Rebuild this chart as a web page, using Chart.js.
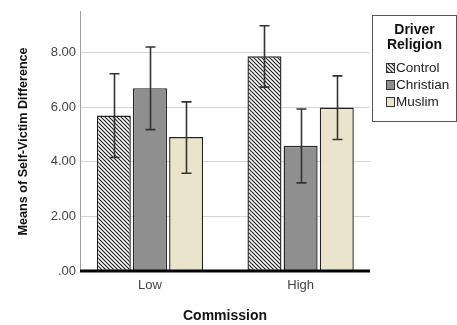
<!DOCTYPE html>
<html>
<head>
<meta charset="utf-8">
<script src="https://cdn.jsdelivr.net/npm/chart.js@4/dist/chart.umd.min.js"></script>
<style>
html,body{margin:0;padding:0;background:#fff;}
#wrap{width:457px;height:325px;position:relative;}
</style>
</head>
<body>
<div id="wrap"><canvas id="c" width="457" height="325"></canvas></div>
<script>
// ---- data ----
const categories = ["Low", "High"];
const seriesNames = ["Control", "Christian", "Muslim"];
const controlMeans   = [5.70, 7.87];
const christianMeans = [6.70, 4.59];
const muslimMeans    = [4.91, 5.99];
const controlLow   = [4.16, 6.74];
const controlHigh  = [7.23, 8.99];
const christianLow  = [5.18, 3.23];
const christianHigh = [8.21, 5.94];
const muslimLow  = [3.58, 4.82];
const muslimHigh = [6.20, 7.15];
const yTicks = [0, 2, 4, 6, 8];
const legendTitle = ["Driver", "Religion"];
const xTitle = "Commission";
const yTitle = "Means of Self-Victim Difference";

// ---- hatch pattern ----
function makeHatch() {
  const p = document.createElement('canvas');
  p.width = 4; p.height = 4;
  const g = p.getContext('2d');
  g.fillStyle = '#ffffff';
  g.fillRect(0, 0, 4, 4);
  g.strokeStyle = '#222222';
  g.lineWidth = 1.2;
  for (const k of [-4, 0, 4]) {
    g.beginPath();
    g.moveTo(k - 1, -1);
    g.lineTo(k + 5, 5);
    g.stroke();
  }
  return document.getElementById('c').getContext('2d').createPattern(p, 'repeat');
}
const hatch = makeHatch();
const fills = [hatch, '#8f8f8f', '#ebe4cd'];

const means = [controlMeans, christianMeans, muslimMeans];
const lows = [controlLow, christianLow, muslimLow];
const highs = [controlHigh, christianHigh, muslimHigh];

const datasets = seriesNames.map((name, s) => ({
  label: name,
  data: means[s].map((v, i) => ({ x: i, y: v })),
  errLow: lows[s],
  errHigh: highs[s],
  backgroundColor: fills[s],
  borderColor: '#222222',
  borderWidth: 1.4,
  categoryPercentage: 0.72,
  barPercentage: 0.94
}));

const errorBars = {
  id: 'errorBars',
  afterDatasetsDraw(chart) {
    const ctx = chart.ctx;
    const ys = chart.scales.y;
    ctx.save();
    ctx.strokeStyle = '#333333';
    ctx.lineWidth = 1.6;
    chart.data.datasets.forEach((ds, di) => {
      const meta = chart.getDatasetMeta(di);
      meta.data.forEach((bar, i) => {
        const x = Math.round(bar.x) + 0.5;
        const y1 = ys.getPixelForValue(ds.errLow[i]);
        const y2 = ys.getPixelForValue(ds.errHigh[i]);
        ctx.beginPath();
        ctx.moveTo(x, y1); ctx.lineTo(x, y2);
        ctx.moveTo(x - 5, y1); ctx.lineTo(x + 5, y1);
        ctx.moveTo(x - 5, y2); ctx.lineTo(x + 5, y2);
        ctx.stroke();
      });
    });
    ctx.restore();
  }
};

const baseline = {
  id: 'baseline',
  afterDatasetsDraw(chart) {
    const ctx = chart.ctx;
    const a = chart.chartArea;
    const y0 = chart.scales.y.getPixelForValue(0);
    ctx.save();
    ctx.fillStyle = '#000';
    ctx.fillRect(a.left, y0 - 1.5, a.right - a.left, 3);
    ctx.restore();
  }
};

const legendBox = {
  id: 'legendBox',
  afterDraw(chart) {
    const ctx = chart.ctx;
    const L = 372.5, T = 15.5, W = 84, H = 106;
    ctx.save();
    ctx.fillStyle = '#fff';
    ctx.fillRect(L, T, W, H);
    ctx.strokeStyle = '#555';
    ctx.lineWidth = 1;
    ctx.strokeRect(L, T, W, H);
    ctx.fillStyle = '#111';
    ctx.font = 'bold 14px "Liberation Sans", Arial, sans-serif';
    ctx.textAlign = 'center';
    ctx.textBaseline = 'middle';
    legendTitle.forEach((t, i) => ctx.fillText(t, L + W / 2, 30 + i * 15));
    ctx.font = '13.5px "Liberation Sans", Arial, sans-serif';
    ctx.textAlign = 'left';
    seriesNames.forEach((name, s) => {
      const cy = 68 + s * 17;
      ctx.fillStyle = fills[s];
      ctx.fillRect(386, cy - 5, 9, 10);
      ctx.strokeStyle = '#333';
      ctx.strokeRect(386.5, cy - 4.5, 8, 9);
      ctx.fillStyle = '#222';
      ctx.fillText(name, 396, cy + 0.5);
    });
    ctx.restore();
  }
};

new Chart(document.getElementById('c'), {
  type: 'bar',
  data: { datasets },
  plugins: [errorBars, baseline, legendBox],
  options: {
    responsive: false,
    animation: false,
    layout: { padding: { top: 7, right: 87, left: 0, bottom: 0 } },
    plugins: { legend: { display: false }, tooltip: { enabled: false } },
    scales: {
      x: {
        type: 'linear',
        min: -0.4645,
        max: 1.4605,
        offset: false,
        grid: { display: false, drawTicks: false },
        border: { display: false },
        afterBuildTicks: (s) => { s.ticks = categories.map((c, i) => ({ value: i })); },
        afterFit: (s) => { s.height = 54; },
        ticks: {
          autoSkip: false,
          maxRotation: 0,
          padding: 7,
          color: '#444',
          font: { family: '"Liberation Sans", Arial, sans-serif', size: 13 },
          callback: (v) => categories[v]
        },
        title: {
          display: true,
          text: xTitle,
          color: '#111',
          padding: { top: 0, bottom: 0 },
          font: { family: '"Liberation Sans", Arial, sans-serif', size: 14, weight: 'bold' }
        }
      },
      y: {
        min: 0,
        max: 9.5,
        afterBuildTicks: (s) => { s.ticks = yTicks.map(v => ({ value: v })); },
        afterFit: (s) => { s.width = 80; },
        grid: {
          color: (c) => c.tick && c.tick.value === 0 ? 'rgba(0,0,0,0)' : '#d4d4d4',
          lineWidth: 1,
          drawTicks: false
        },
        border: { display: true, color: '#a0a0a0', width: 1 },
        ticks: {
          padding: 4,
          color: '#444',
          font: { family: '"Liberation Sans", Arial, sans-serif', size: 13 },
          callback: (v) => v === 0 ? '.00' : v.toFixed(2)
        },
        title: {
          display: true,
          text: yTitle,
          color: '#111',
          padding: { top: 16, bottom: 0 },
          font: { family: '"Liberation Sans", Arial, sans-serif', size: 12.6, weight: 'bold' }
        }
      }
    }
  }
});
</script>
</body>
</html>
